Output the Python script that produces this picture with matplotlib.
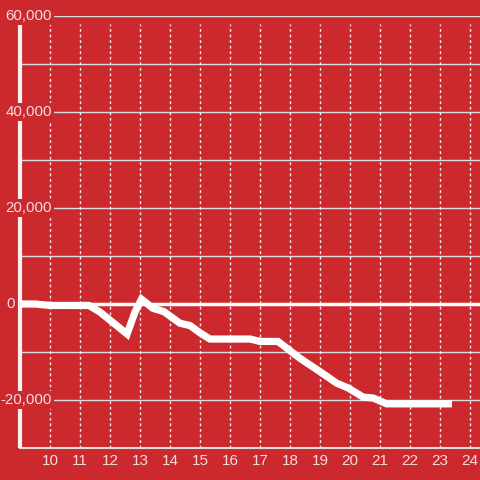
import matplotlib
matplotlib.use("Agg")
import matplotlib.pyplot as plt

# data
hours = [9.0, 9.5, 10.0, 11.3, 11.67, 12.57, 12.83, 13.05, 13.43, 13.8, 14.33, 14.67,
         15.0, 15.33, 16.67, 17.0, 17.6, 18.33, 19.0, 19.56, 19.94, 20.44, 20.78, 21.22, 23.4]
values = [0, 0, -300, -300, -1700, -6250, -1700, 1000, -900, -1600, -4000, -4500,
          -6000, -7300, -7300, -7800, -7800, -11300, -14100, -16500, -17500, -19400, -19600, -20800, -20800]
x_ticks = list(range(10, 25))
y_labeled = [60000, 40000, 20000, -20000]
y_unlabeled = [50000, 30000, 10000, -10000]
y_labels = ["60,000", "40,000", "20,000", "-20,000"]

BG = '#cc292e'
TXT = '#f6dcdc'
GRID = '#dddddd'
W, H = 480, 480

plt.rcParams['font.family'] = ['Liberation Sans', 'DejaVu Sans']
fig = plt.figure(figsize=(4.8, 4.8), dpi=100, facecolor=BG)
left_px, bottom_px, right_px, top_px = 20, 448, 480, 16
ax = fig.add_axes([left_px / W, 1 - bottom_px / H, (right_px - left_px) / W, (bottom_px - top_px) / H])
ax.set_facecolor(BG)
ax.set_xlim(9, 9 + 460 / 30)
ax.set_ylim(-30000, 60000)
for s in ax.spines.values():
    s.set_visible(False)
ax.set_xticks([])
ax.set_yticks([])

xr = ax.get_xlim()
frac_start = (53 - left_px) / (right_px - left_px)
for y in y_labeled:
    ax.axhline(y, xmin=frac_start, color=GRID, lw=1, zorder=1)
for y in y_unlabeled:
    ax.axhline(y, color=GRID, lw=1, zorder=1)

# dashed vertical grid
for x in x_ticks:
    ax.plot([x, x], [-30000, 58400], color='white', lw=1, ls=(0, (2, 2)), zorder=1, alpha=0.9)

# bottom axis
ax.axhline(-30000, color=GRID, lw=1.5, zorder=2, clip_on=False)

# zero line
ax.plot([9, xr[1]], [0, 0], color='white', lw=2.5, zorder=3, clip_on=False,
        solid_capstyle='butt')

# y axis line
ax.plot([9, 9], [-30000, 58300], color='#f2f2f2', lw=3, zorder=3, clip_on=False,
        solid_capstyle='butt')

# data line
ax.plot(hours, values, color='white', lw=5.2, zorder=5, solid_joinstyle='miter',
        solid_capstyle='butt')

# y labels
for y, lab in zip(y_labeled, y_labels):
    ax.text(9 + 32 / 30, y, lab, ha='right', va='center', color=TXT, fontsize=10.8,
            zorder=6, bbox=dict(facecolor=BG, edgecolor='none', pad=1.5))
ax.text(9 - 5 / 30, 0, "0", ha='right', va='center', color=TXT, fontsize=10.8, zorder=6)

# x labels
for x in x_ticks:
    ax.text(x, -30000 - 13 * 90000 / 432, str(x), ha='center', va='center', color=TXT,
            fontsize=11, clip_on=False)

fig.savefig('out.png', dpi=100, facecolor=BG)
